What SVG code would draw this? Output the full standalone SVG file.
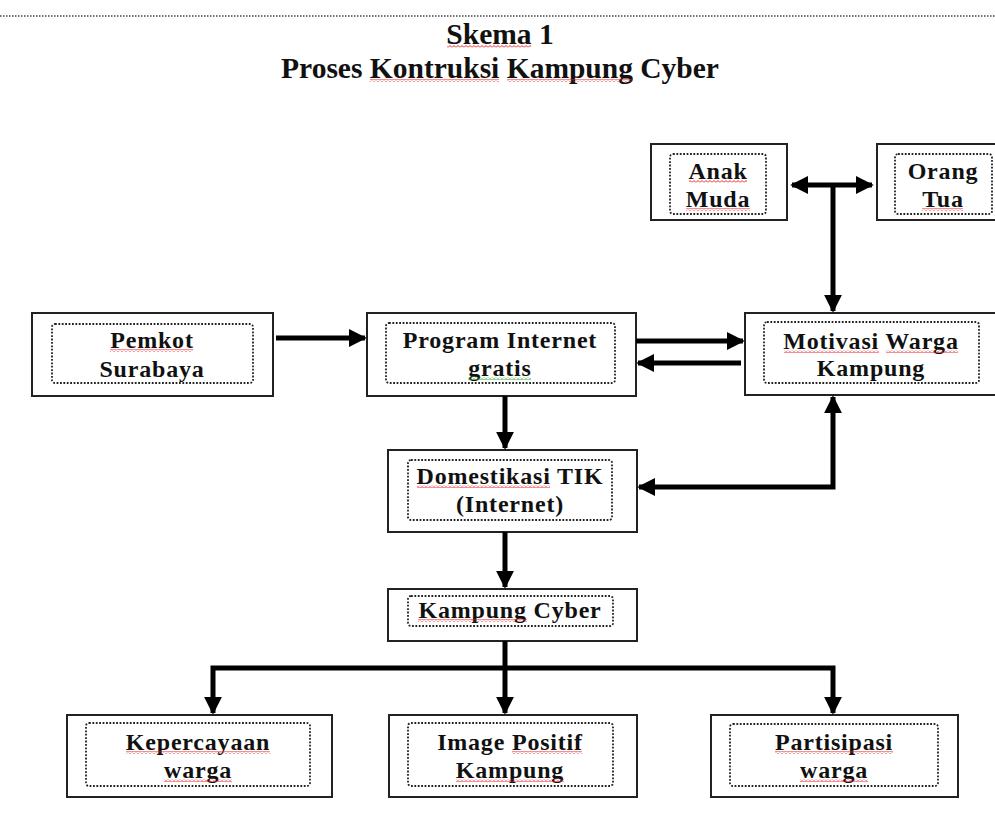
<svg xmlns="http://www.w3.org/2000/svg" width="995" height="827" viewBox="0 0 995 827">
<style>
.outer{fill:#fff;stroke:#222;stroke-width:2}
.inner{fill:none;stroke:#222;stroke-width:1.8;stroke-dasharray:1.8 1.6}
.t{font-family:"Liberation Serif","Times New Roman",serif;font-weight:bold;font-size:24px;fill:#111;text-anchor:middle;letter-spacing:0.8px}
.title{font-family:"Liberation Serif","Times New Roman",serif;font-weight:bold;font-size:29.5px;fill:#111;text-anchor:middle}
.c{fill:none;stroke:#000;stroke-width:5}
.sp{fill:url(#wr)}
.sg{fill:url(#wg)}
</style>
<defs>
<marker id="ah" viewBox="0 0 10 10" refX="9" refY="5" markerWidth="3.6" markerHeight="3.6" orient="auto-start-reverse" markerUnits="strokeWidth">
<path d="M0,0 L10,5 L0,10 z" fill="#000"/>
</marker>
<pattern id="wr" width="4" height="3" patternUnits="userSpaceOnUse">
<path d="M0,2.5 L2,0.5 L4,2.5" fill="none" stroke="#e22" stroke-width="1"/>
</pattern>
<pattern id="wg" width="4" height="3" patternUnits="userSpaceOnUse">
<path d="M0,2.5 L2,0.5 L4,2.5" fill="none" stroke="#2a2" stroke-width="1"/>
</pattern>
</defs>
<line x1="0" y1="16" x2="995" y2="16" stroke="#444" stroke-width="1.5" stroke-dasharray="1.5 1.5"/>
<g id="title">
<text class="title" x="500" y="44">Skema 1</text>
<text class="title" x="500" y="78">Proses Kontruksi Kampung Cyber</text>
<rect class="sp" x="447" y="45" width="84" height="3"/>
<rect class="sp" x="370" y="79" width="129" height="3"/>
<rect class="sp" x="507" y="79" width="126" height="3"/>
</g>
<g id="anak-muda">
<rect class="outer" x="651" y="144" width="136" height="76"/>
<rect class="inner" x="670" y="154" width="96" height="60" rx="3"/>
<text class="t" x="718" y="179">Anak</text>
<text class="t" x="718" y="207">Muda</text>
<rect class="sp" x="689" y="180" width="58" height="3"/>
<rect class="sp" x="686" y="208" width="64" height="3"/>
</g>
<g id="orang-tua">
<rect class="outer" x="877" y="144" width="133" height="76"/>
<rect class="inner" x="895" y="154" width="97" height="60" rx="3"/>
<text class="t" x="943" y="179">Orang</text>
<text class="t" x="943" y="207">Tua</text>
<rect class="sp" x="922" y="208" width="41" height="3"/>
</g>
<g id="pemkot">
<rect class="outer" x="32" y="313" width="241" height="83"/>
<rect class="inner" x="52" y="324" width="201" height="59" rx="3"/>
<text class="t" x="152" y="348">Pemkot</text>
<text class="t" x="152" y="377">Surabaya</text>
<rect class="sp" x="110" y="349" width="83" height="3"/>
</g>
<g id="program">
<rect class="outer" x="367" y="313" width="269" height="83"/>
<rect class="inner" x="386" y="323" width="229" height="60" rx="3"/>
<text class="t" x="500" y="348">Program Internet</text>
<text class="t" x="500" y="376">gratis</text>
<rect class="sg" x="468" y="377" width="63" height="3"/>
</g>
<g id="motivasi">
<rect class="outer" x="745" y="313" width="253" height="82"/>
<rect class="inner" x="764" y="322" width="215" height="61" rx="3"/>
<text class="t" x="871" y="349">Motivasi Warga</text>
<text class="t" x="871" y="376">Kampung</text>
<rect class="sp" x="784" y="350" width="95" height="3"/>
<rect class="sp" x="886" y="350" width="72" height="3"/>
</g>
<g id="domestikasi">
<rect class="outer" x="388" y="450" width="249" height="82"/>
<rect class="inner" x="408" y="460" width="204" height="60" rx="3"/>
<text class="t" x="510" y="484">Domestikasi TIK</text>
<text class="t" x="510" y="512">(Internet)</text>
<rect class="sp" x="417" y="485" width="133" height="3"/>
</g>
<g id="kampung-cyber">
<rect class="outer" x="388" y="589" width="249" height="52"/>
<rect class="inner" x="408" y="596" width="205" height="30" rx="3"/>
<text class="t" x="510" y="618">Kampung Cyber</text>
<rect class="sp" x="418" y="619" width="109" height="3"/>
</g>
<g id="kepercayaan">
<rect class="outer" x="67" y="715" width="265" height="82"/>
<rect class="inner" x="86" y="723" width="224" height="63" rx="3"/>
<text class="t" x="198" y="750">Kepercayaan</text>
<text class="t" x="198" y="778">warga</text>
<rect class="sp" x="126" y="751" width="144" height="3"/>
<rect class="sp" x="164" y="779" width="68" height="3"/>
</g>
<g id="image-positif">
<rect class="outer" x="389" y="715" width="248" height="82"/>
<rect class="inner" x="408" y="723" width="205" height="63" rx="3"/>
<text class="t" x="510" y="750">Image Positif</text>
<text class="t" x="510" y="778">Kampung</text>
<rect class="sp" x="512" y="751" width="70" height="3"/>
<rect class="sp" x="456" y="779" width="108" height="3"/>
</g>
<g id="partisipasi">
<rect class="outer" x="711" y="715" width="247" height="82"/>
<rect class="inner" x="730" y="724" width="208" height="62" rx="3"/>
<text class="t" x="834" y="750">Partisipasi</text>
<text class="t" x="834" y="778">warga</text>
<rect class="sp" x="775" y="751" width="118" height="3"/>
<rect class="sp" x="800" y="779" width="68" height="3"/>
</g>
<g id="connectors">
<line class="c" x1="792" y1="185" x2="872" y2="185" marker-start="url(#ah)" marker-end="url(#ah)"/>
<line class="c" x1="833" y1="185" x2="833" y2="311" marker-end="url(#ah)"/>
<line class="c" x1="276" y1="338" x2="365" y2="338" marker-end="url(#ah)"/>
<line class="c" x1="636" y1="341" x2="743" y2="341" marker-end="url(#ah)"/>
<line class="c" x1="741" y1="363" x2="638" y2="363" marker-end="url(#ah)"/>
<line class="c" x1="505" y1="396" x2="505" y2="448" marker-end="url(#ah)"/>
<polyline class="c" points="639,487 833,487 833,397" marker-start="url(#ah)" marker-end="url(#ah)"/>
<line class="c" x1="505" y1="532" x2="505" y2="587" marker-end="url(#ah)"/>
<line class="c" x1="505" y1="641" x2="505" y2="713" marker-end="url(#ah)"/>
<polyline class="c" points="213,713 213,668 833,668 833,713" marker-start="url(#ah)" marker-end="url(#ah)"/>
</g>
</svg>
